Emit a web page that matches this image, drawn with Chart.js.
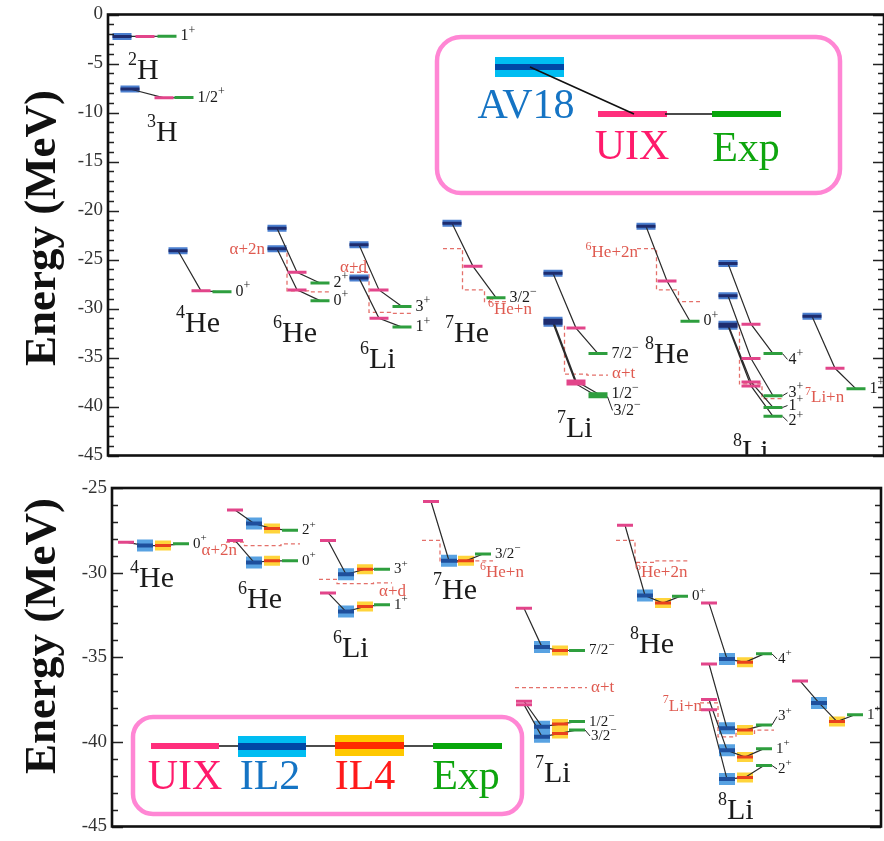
<!DOCTYPE html>
<html>
<head>
<meta charset="utf-8">
<script src="https://cdn.jsdelivr.net/npm/chart.js@4.4.1/dist/chart.umd.min.js"></script>
<style>
  html, body { margin: 0; padding: 0; background: #fff; overflow: hidden; }
  #wrap { position: relative; width: 884px; height: 841px; }
  canvas { position: absolute; left: 0; }
  #top { top: 0; }
  #bot { top: 470px; }
</style>
</head>
<body>
<div id="wrap">
  <canvas id="top" width="884" height="470"></canvas>
  <canvas id="bot" width="884" height="371"></canvas>
</div>
<script>
const SERIF = '"Liberation Serif", "Times New Roman", serif';

// ---------- upper panel: AV18, AV18+UIX, experiment (MeV) ----------
const topNuclei = ['^{2}H', '^{3}H', '^{4}He', '^{6}He', '^{6}Li', '^{7}He', '^{7}Li', '^{8}He', '^{8}Li', ''];
const topStateNuc = [0, 1, 2, 3, 3, 4, 4, 5, 6, 6, 6, 7, 8, 8, 8, 8, 9];
const topSpin = ['1^{+}', '1/2^{+}', '0^{+}', '2^{+}', '0^{+}', '3^{+}', '1^{+}', '3/2^{−}', '7/2^{−}', '1/2^{−}', '3/2^{−}',
                 '0^{+}', '4^{+}', '3^{+}', '1^{+}', '2^{+}', '1^{+}'];
const topAV18 = [-2.24, -7.6, -24.1, -21.8, -23.9, -23.5, -26.9, -21.3, -26.4, -31.2, -31.5, -21.6, -25.4, -28.7, -31.6, -31.8, -30.8];
const topUIX  = [-2.24, -8.5, -28.2, -26.3, -28.1, -28.1, -31.0, -25.7, -32.0, -37.4, -37.7, -27.2, -31.6, -35.1, -37.5, -37.9, -36.1];
const topExp  = [-2.22, -8.48, -28.3, -27.4, -29.2, -29.8, -31.9, -28.9, -34.6, -38.7, -39.0, -31.3, -34.6, -38.9, -40.1, -41.0, -38.2];

// breakup thresholds, one value per model
const topThrName = ['α+2n', 'α+d', '^{6}He+n', 'α+t', '^{6}He+2n', '^{7}Li+n'];
const topThrNuc  = [3, 4, 5, 6, 7, 8];
const topThrAV18 = [-24.1, -26.3, -23.9, -31.7, -23.9, -31.6];
const topThrUIX  = [-28.2, -30.4, -28.1, -36.7, -28.1, -37.7];
const topThrExp  = [-28.3, -30.5, -29.3, -36.8, -29.3, -39.2];

// ---------- lower panel: UIX, IL2, IL4, experiment (MeV) ----------
const botNuclei = ['^{4}He', '^{6}He', '^{6}Li', '^{7}He', '^{7}Li', '^{8}He', '^{8}Li', ''];
const botStateNuc = [0, 1, 1, 2, 2, 3, 4, 4, 4, 5, 6, 6, 6, 6, 7];
const botSpin = ['0^{+}', '2^{+}', '0^{+}', '3^{+}', '1^{+}', '3/2^{−}', '7/2^{−}', '1/2^{−}', '3/2^{−}',
                 '0^{+}', '4^{+}', '3^{+}', '1^{+}', '2^{+}', '1^{+}'];
const botUIX = [-28.2, -26.3, -28.1, -28.1, -31.2, -25.8, -32.1, -37.6, -37.8, -27.2, -31.8, -35.4, -37.5, -38.1, -36.4];
const botIL2 = [-28.4, -27.1, -29.4, -30.1, -32.3, -29.3, -34.4, -39.1, -39.7, -31.35, -35.1, -39.2, -40.5, -42.2, -37.7];
const botIL4 = [-28.4, -27.4, -29.3, -29.8, -32.0, -29.3, -34.6, -38.95, -39.5, -31.8, -35.3, -39.3, -40.9, -42.1, -38.8];
const botExp = [-28.3, -27.5, -29.3, -29.8, -31.9, -28.9, -34.6, -38.8, -39.3, -31.4, -34.8, -39.0, -40.4, -41.4, -38.4];

const botThrName = ['α+2n', 'α+d', '^{6}He+n', 'α+t', '^{6}He+2n', '^{7}Li+n'];
const botThrNuc  = [1, 2, 3, 4, 5, 6];
const botThrUIX  = [-28.2, -30.4, -28.1, -36.8, -28.1, -37.7];
const botThrIL2  = [-28.4, -30.65, -29.4, -36.8, -29.4, -39.7];
const botThrIL4  = [-28.4, -30.65, -29.3, -36.8, -29.3, -39.5];
const botThrExp  = [-28.3, -30.6, -29.3, -36.8, -29.3, -39.3];

// ---------- layout: column centres along the hidden x axis (1 unit = 10 px) ----------
const topColAV18 = [1.4, 2.2, 7.0, 16.9, 25.1, 34.4, 44.5, 53.8, 62.0, 70.4];
const topColUIX  = [3.7, 5.6, 9.3, 18.9, 27.1, 36.5, 46.8, 55.9, 64.3, 72.7];
const topColExp  = [5.9, 7.6, 11.4, 21.2, 29.4, 38.8, 49.0, 58.2, 66.5, 74.8];
const topNucX = [2.0, 3.9, 6.8, 16.5, 25.2, 33.7, 44.9, 53.7, 62.5, 0];
const topNucE = [-5.8, -12.1, -31.6, -32.6, -35.3, -32.6, -42.3, -34.8, -44.7, 0];
const topSpinE = [null, null, null, null, null, null, null, null, null, null, -40.4, null, -35.2, -38.6, -39.9, -41.5, null];
const topThrLabel = [[15.7, -24.0, 'right'], [25.9, -25.8, 'right'], [38.0, -30.1, 'left'],
                     [50.4, -36.6, 'left'], [53.0, -24.3, 'right'], [69.7, -39.1, 'left']];

const botColUIX = [1.4, 12.3, 21.6, 31.9, 41.2, 51.3, 59.7, 68.8];
const botColIL2 = [3.3, 14.2, 23.4, 33.7, 43.0, 53.3, 61.5, 70.7];
const botColIL4 = [5.1, 16.0, 25.3, 35.4, 44.8, 55.1, 63.3, 72.5];
const botColExp = [6.9, 17.8, 27.0, 37.1, 46.5, 56.8, 65.2, 74.3];
const botNucX = [1.8, 12.6, 22.1, 32.1, 42.3, 51.8, 60.6, 0];
const botNucE = [-30.4, -31.6, -34.5, -31.1, -41.9, -34.3, -44.1, 0];
const botSpinE = [null, null, null, null, null, null, null, null, -39.65, null, -35.1, -38.5, null, -41.6, null];
const botThrLabel = [[12.5, -28.7, 'right'], [26.7, -31.1, 'left'], [36.8, -30.0, 'left'],
                     [47.9, -36.8, 'left'], [52.3, -30.0, 'left'], [59.0, -37.9, 'right']];

// ---------- helpers ----------
function richParts(str) {
  const parts = [];
  const re = /\^\{([^}]*)\}/g;
  let last = 0, m;
  while ((m = re.exec(str))) {
    if (m.index > last) parts.push([str.slice(last, m.index), false]);
    parts.push([m[1], true]);
    last = re.lastIndex;
  }
  if (last < str.length) parts.push([str.slice(last), false]);
  return parts;
}

function drawRich(ctx, str, x, y, size, supSize, align, color) {
  const parts = richParts(str);
  const fontFor = sup => (sup ? supSize : size) + 'px ' + SERIF;
  let w = 0;
  parts.forEach(p => { ctx.font = fontFor(p[1]); w += ctx.measureText(p[0]).width; });
  let cx = align === 'right' ? x - w : align === 'center' ? x - w / 2 : x;
  ctx.fillStyle = color;
  ctx.textAlign = 'left';
  ctx.textBaseline = 'middle';
  parts.forEach(p => {
    ctx.font = fontFor(p[1]);
    ctx.fillText(p[0], cx, p[1] ? y - size * 0.36 : y);
    cx += ctx.measureText(p[0]).width;
  });
}

function roundBox(ctx, x, y, w, h, r) {
  ctx.beginPath();
  ctx.moveTo(x + r, y);
  ctx.arcTo(x + w, y, x + w, y + h, r);
  ctx.arcTo(x + w, y + h, x, y + h, r);
  ctx.arcTo(x, y + h, x, y, r);
  ctx.arcTo(x, y, x + w, y, r);
  ctx.closePath();
  ctx.stroke();
}

function levelPts(cols, nucOf, vals, half) {
  const pts = [];
  vals.forEach((v, i) => {
    const c = cols[nucOf[i]];
    pts.push({ x: c - half, y: v }, { x: c + half, y: v }, { x: c + half, y: null });
  });
  return pts;
}

function linkPts(series, nucOf) {
  const pts = [];
  nucOf.forEach((n, i) => {
    series.forEach(s => pts.push({ x: s.cols[n], y: s.vals[i] }));
    pts.push({ x: series[series.length - 1].cols[n], y: null });
  });
  return pts;
}

function thrPts(series, thr) {
  const pts = [];
  thr.nuc.forEach((n, i) => {
    const cs = series.map(s => s.cols[n]);
    const vs = thr.vals.map(a => a[i]);
    pts.push({ x: cs[0] - 0.9, y: vs[0] });
    for (let k = 1; k < cs.length; k++) {
      const mid = (cs[k - 1] + cs[k]) / 2;
      pts.push({ x: mid, y: vs[k - 1] }, { x: mid, y: vs[k] });
    }
    const end = cs[cs.length - 1] + 1.0;
    pts.push({ x: end, y: vs[vs.length - 1] }, { x: end, y: null });
  });
  return pts;
}

// ---------- legends ----------
function topLegend(ctx) {
  ctx.save();
  ctx.lineWidth = 4.5;
  ctx.strokeStyle = '#ff86d4';
  roundBox(ctx, 437, 37, 403, 156, 24);
  ctx.fillStyle = '#00bdf2'; ctx.fillRect(495, 57, 69, 20);
  ctx.fillStyle = '#0047a6'; ctx.fillRect(495, 64, 69, 6);
  ctx.fillStyle = '#ff2f7c'; ctx.fillRect(598, 111, 69, 6);
  ctx.fillStyle = '#07a60b'; ctx.fillRect(712, 111, 69, 6);
  ctx.strokeStyle = '#111'; ctx.lineWidth = 1.6;
  ctx.beginPath();
  ctx.moveTo(530, 67); ctx.lineTo(634, 114);
  ctx.moveTo(665, 114); ctx.lineTo(712, 114);
  ctx.stroke();
  ctx.textAlign = 'center'; ctx.textBaseline = 'middle';
  ctx.font = '42px ' + SERIF;
  ctx.fillStyle = '#1574c4'; ctx.fillText('AV18', 526, 107);
  ctx.fillStyle = '#ff1a6b'; ctx.fillText('UIX', 632, 148);
  ctx.fillStyle = '#0ea50e'; ctx.fillText('Exp', 746, 150);
  ctx.restore();
}

function botLegend(ctx) {
  ctx.save();
  ctx.lineWidth = 4.5;
  ctx.strokeStyle = '#ff86d4';
  roundBox(ctx, 133, 247, 389, 97, 20);
  ctx.strokeStyle = '#111'; ctx.lineWidth = 1.6;
  ctx.beginPath(); ctx.moveTo(151, 276); ctx.lineTo(502, 276); ctx.stroke();
  ctx.fillStyle = '#ff2f7c'; ctx.fillRect(151, 273, 68, 6);
  ctx.fillStyle = '#00bdf2'; ctx.fillRect(238, 266, 68, 21);
  ctx.fillStyle = '#0047a6'; ctx.fillRect(238, 273, 68, 7);
  ctx.fillStyle = '#ffc800'; ctx.fillRect(335, 265, 69, 21);
  ctx.fillStyle = '#ff2a00'; ctx.fillRect(335, 272, 69, 7);
  ctx.fillStyle = '#07a60b'; ctx.fillRect(433, 273, 69, 6);
  ctx.textAlign = 'center'; ctx.textBaseline = 'middle';
  ctx.font = '42px ' + SERIF;
  ctx.fillStyle = '#ff1a6b'; ctx.fillText('UIX', 185, 308);
  ctx.fillStyle = '#1574c4'; ctx.fillText('IL2', 270, 308);
  ctx.fillStyle = '#ff1a1a'; ctx.fillText('IL4', 365, 308);
  ctx.fillStyle = '#0ea50e'; ctx.fillText('Exp', 466, 308);
  ctx.restore();
}

// ---------- panel description ----------
const panels = [
  {
    id: 'top', left: 108, xMax: 77.6, yMin: -45, yMax: 0,
    pad: { top: 13, right: 0, bottom: 14, left: 0 },
    half: 0.95, spinSize: 16, titleY: 228,
    nuclei: topNuclei, nucX: topNucX, nucE: topNucE,
    stateNuc: topStateNuc, spin: topSpin, spinE: topSpinE,
    series: [
      { vals: topAV18, cols: topColAV18, layers: [{ color: '#4b7fcf', width: 7, order: 3 }, { color: '#1e2c6e', width: 3, order: 0 }] },
      { vals: topUIX, cols: topColUIX, layers: [{ color: '#e2458a', width: 3, order: 0 }] },
      { vals: topExp, cols: topColExp, layers: [{ color: '#2e9e3e', width: 3, order: 0 }] }
    ],
    thr: { names: topThrName, nuc: topThrNuc, vals: [topThrAV18, topThrUIX, topThrExp], label: topThrLabel },
    legend: topLegend
  },
  {
    id: 'bot', left: 112, xMax: 76.9, yMin: -45, yMax: -25,
    pad: { top: 18, right: 3, bottom: 10, left: 0 },
    half: 0.8, spinSize: 15, titleY: 166,
    nuclei: botNuclei, nucX: botNucX, nucE: botNucE,
    stateNuc: botStateNuc, spin: botSpin, spinE: botSpinE,
    series: [
      { vals: botUIX, cols: botColUIX, layers: [{ color: '#e2458a', width: 3, order: 0 }] },
      { vals: botIL2, cols: botColIL2, layers: [{ color: '#58a2e2', width: 12, order: 3 }, { color: '#1e4f9c', width: 4, order: 0 }] },
      { vals: botIL4, cols: botColIL4, layers: [{ color: '#ffd43b', width: 10, order: 3 }, { color: '#e8411c', width: 3, order: 0 }] },
      { vals: botExp, cols: botColExp, layers: [{ color: '#2e9e3e', width: 3, order: 0 }] }
    ],
    thr: { names: botThrName, nuc: botThrNuc, vals: [botThrUIX, botThrIL2, botThrIL4, botThrExp], label: botThrLabel },
    legend: botLegend
  }
];

const decor = p => ({
  id: 'decor_' + p.id,
  afterDraw(chart) {
    const { ctx, chartArea: a, scales: { x, y } } = chart;
    ctx.save();

    // inward ticks on both sides, every 1 MeV
    ctx.strokeStyle = '#222';
    ctx.lineWidth = 1.3;
    for (let v = p.yMax; v >= p.yMin; v--) {
      const py = Math.round(y.getPixelForValue(v)) + 0.5;
      const len = v % 5 === 0 ? 11 : 6;
      ctx.beginPath();
      ctx.moveTo(a.left, py); ctx.lineTo(a.left + len, py);
      ctx.moveTo(a.right, py); ctx.lineTo(a.right - len, py);
      ctx.stroke();
    }
    ctx.lineWidth = 2.6;
    ctx.strokeStyle = '#111';
    ctx.strokeRect(a.left, a.top, a.right - a.left, a.bottom - a.top);

    // nucleus names
    ctx.save();
    ctx.beginPath();
    ctx.rect(a.left, a.top, a.right - a.left, a.bottom - a.top);
    ctx.clip();
    p.nuclei.forEach((name, i) => {
      if (name) drawRich(ctx, name, x.getPixelForValue(p.nucX[i]), y.getPixelForValue(p.nucE[i]), 30, 18, 'left', '#1a1a1a');
    });
    ctx.restore();

    // spin-parity labels next to the experimental level
    const exp = p.series[p.series.length - 1];
    p.spin.forEach((s, i) => {
      const n = p.stateNuc[i];
      const x0 = x.getPixelForValue(exp.cols[n] + p.half);
      const yb = y.getPixelForValue(exp.vals[i]);
      let tx = x0 + 4, yl = yb;
      if (p.spinE[i] != null) {
        yl = y.getPixelForValue(p.spinE[i]);
        ctx.strokeStyle = '#222'; ctx.lineWidth = 1;
        ctx.beginPath(); ctx.moveTo(x0, yb); ctx.lineTo(x0 + 5, yl); ctx.stroke();
        tx = x0 + 6;
      }
      drawRich(ctx, s, tx, yl, p.spinSize, Math.round(p.spinSize * 0.72), 'left', '#1a1a1a');
    });

    // threshold names
    p.thr.names.forEach((s, i) => {
      const [lx, le, al] = p.thr.label[i];
      drawRich(ctx, s, x.getPixelForValue(lx), y.getPixelForValue(le), 17, 12, al, '#df5a50');
    });

    // axis title
    ctx.save();
    ctx.translate(55, p.titleY);
    ctx.rotate(-Math.PI / 2);
    ctx.font = 'bold 45px ' + SERIF;
    ctx.fillStyle = '#111';
    ctx.textAlign = 'center';
    ctx.textBaseline = 'alphabetic';
    ctx.fillText('Energy (MeV)', 0, 0);
    ctx.restore();

    ctx.restore();
    p.legend(ctx);
  }
});

panels.forEach(p => {
  const datasets = [];
  const add = (data, color, width, order, dash) => datasets.push({
    data, borderColor: color, borderWidth: width, order, borderDash: dash || [],
    pointRadius: 0, fill: false, tension: 0, spanGaps: false,
    borderCapStyle: 'butt', borderJoinStyle: 'miter'
  });
  p.series.forEach(s => s.layers.forEach(l => add(levelPts(s.cols, p.stateNuc, s.vals, p.half), l.color, l.width, l.order)));
  add(linkPts(p.series, p.stateNuc), '#2b2b2b', 1.2, 1);
  add(thrPts(p.series, p.thr), '#e4706a', 1.3, 4, [4, 3]);

  new Chart(document.getElementById(p.id), {
    type: 'line',
    data: { datasets },
    options: {
      responsive: false,
      animation: false,
      events: [],
      layout: { padding: p.pad },
      plugins: { legend: { display: false }, tooltip: { enabled: false } },
      scales: {
        x: { type: 'linear', min: 0, max: p.xMax, display: false },
        y: {
          type: 'linear', min: p.yMin, max: p.yMax,
          afterFit: s => { s.width = p.left; },
          ticks: { stepSize: 5, padding: 5, color: '#333', font: { family: SERIF, size: 19, lineHeight: 1 } },
          grid: { display: false, drawTicks: false },
          border: { display: false }
        }
      }
    },
    plugins: [decor(p)]
  });
});
</script>
</body>
</html>
